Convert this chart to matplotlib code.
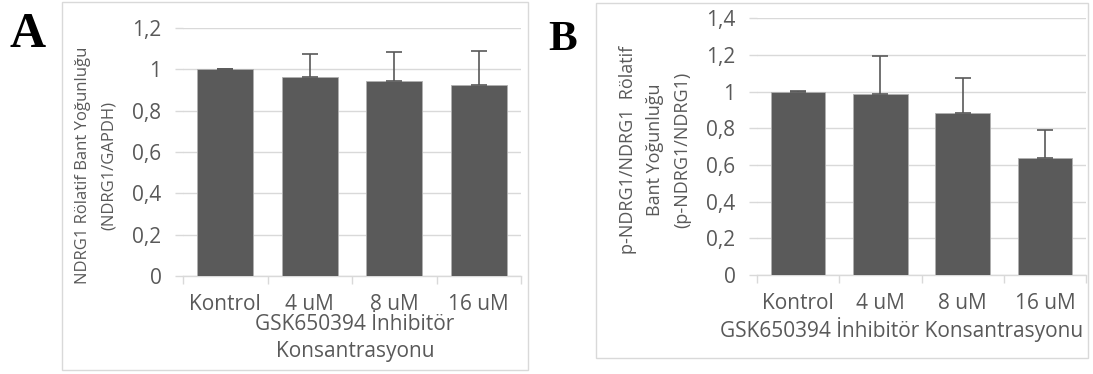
import matplotlib
matplotlib.use("Agg")
import matplotlib.pyplot as plt
from matplotlib.patches import Rectangle

plt.rcParams['font.family'] = ['Open Sans', 'DejaVu Sans']

categories = ["Kontrol", "4 uM", "8 uM", "16 uM"]
values_a = [1.0, 0.961, 0.943, 0.924]
err_a = [0.003, 0.113, 0.142, 0.165]
values_b = [1.0, 0.986, 0.882, 0.636]
err_b = [0.003, 0.210, 0.193, 0.157]

yticks_a = [0, 0.2, 0.4, 0.6, 0.8, 1.0, 1.2]
ytick_labels_a = ["0", "0,2", "0,4", "0,6", "0,8", "1", "1,2"]
yticks_b = [0, 0.2, 0.4, 0.6, 0.8, 1.0, 1.2, 1.4]
ytick_labels_b = ["0", "0,2", "0,4", "0,6", "0,8", "1", "1,2", "1,4"]

W, H = 1093, 374
TXT = '#595959'
GRID = '#D9D9D9'
BAR = '#5A5A5A'

fig = plt.figure(figsize=(W / 100, H / 100), dpi=100)


def fx(x):
    return x / W


def fy(y):
    return 1 - y / H


def frame(x0, y0, x1, y1):
    fig.patches.append(Rectangle((fx(x0), fy(y1)), fx(x1) - fx(x0), fy(y0) - fy(y1),
                                 transform=fig.transFigure, fill=False,
                                 edgecolor=GRID, linewidth=1.0, zorder=0))


def make_axes(x0, x1, ytop, ybot, vals, errs, yticks, ylabels, ymax):
    ax = fig.add_axes([fx(x0), fy(ybot), fx(x1) - fx(x0), fy(ytop) - fy(ybot)])
    pos = list(range(len(categories)))
    ax.bar(pos, vals, width=0.66, color=BAR, edgecolor='#B0B0B0', linewidth=0.6, zorder=3)
    ax.errorbar(pos, vals, yerr=[[0] * len(errs), errs], fmt='none', ecolor=TXT,
                elinewidth=1.2, capsize=5.5, capthick=1.2, zorder=4)
    ax.set_xlim(-0.5, len(categories) - 0.5)
    ax.set_ylim(0, ymax)
    ax.set_yticks(yticks)
    ax.set_yticklabels(ylabels)
    ax.set_xticks(pos)
    ax.set_xticklabels(categories)
    ax.set_xticks([p - 0.5 for p in range(len(categories) + 1)], minor=True)
    ax.tick_params(axis='x', which='major', length=0, pad=13, labelsize=15, labelcolor=TXT)
    ax.tick_params(axis='x', which='minor', length=5.5, width=1.0, color=GRID, direction='out')
    ax.tick_params(axis='y', length=5.5, width=1.0, color=GRID, pad=10, labelsize=15,
                   labelcolor=TXT)
    for s in ['left', 'right', 'top']:
        ax.spines[s].set_visible(False)
    ax.spines['bottom'].set_color(GRID)
    ax.spines['bottom'].set_linewidth(1.0)
    ax.grid(axis='y', color=GRID, linewidth=1.0, zorder=0)
    ax.set_axisbelow(True)
    ax.patch.set_alpha(0)
    return ax


# Panel A
frame(62, 2, 528, 370)
make_axes(183, 521, 28, 276, values_a, err_a, yticks_a, ytick_labels_a, 1.2)
fig.text(fx(96), fy(165), "NDRG1 Rölatif Bant Yoğunluğu\n(NDRG1/GAPDH)", rotation=90,
         ha='center', va='center', fontsize=12, color=TXT, linespacing=1.76,
         multialignment='center')
fig.text(fx(355), fy(338), "GSK650394 İnhibitör\nKonsantrasyonu",
         ha='center', va='center', fontsize=15, color=TXT, linespacing=1.42,
         multialignment='center')
fig.text(fx(10), fy(47), "A", fontsize=36, fontweight='bold', family='Liberation Serif',
         ha='left', va='baseline', color='black')

# Panel B
frame(596, 3, 1088, 358)
make_axes(757, 1086, 18.3, 275, values_b, err_b, yticks_b, ytick_labels_b, 1.4)
fig.text(fx(655), fy(150), "p-NDRG1/NDRG1  Rölatif\nBant Yoğunluğu\n(p-NDRG1/NDRG1)",
         rotation=90, ha='center', va='center', fontsize=13, color=TXT,
         linespacing=1.64, multialignment='center')
fig.text(fx(902), fy(330), "GSK650394 İnhibitör Konsantrasyonu",
         ha='center', va='center', fontsize=15, color=TXT)
fig.text(fx(548), fy(50), "B", fontsize=31, fontweight='bold', family='Liberation Serif',
         ha='left', va='baseline', color='black')

fig.savefig("out.png", dpi=100)
